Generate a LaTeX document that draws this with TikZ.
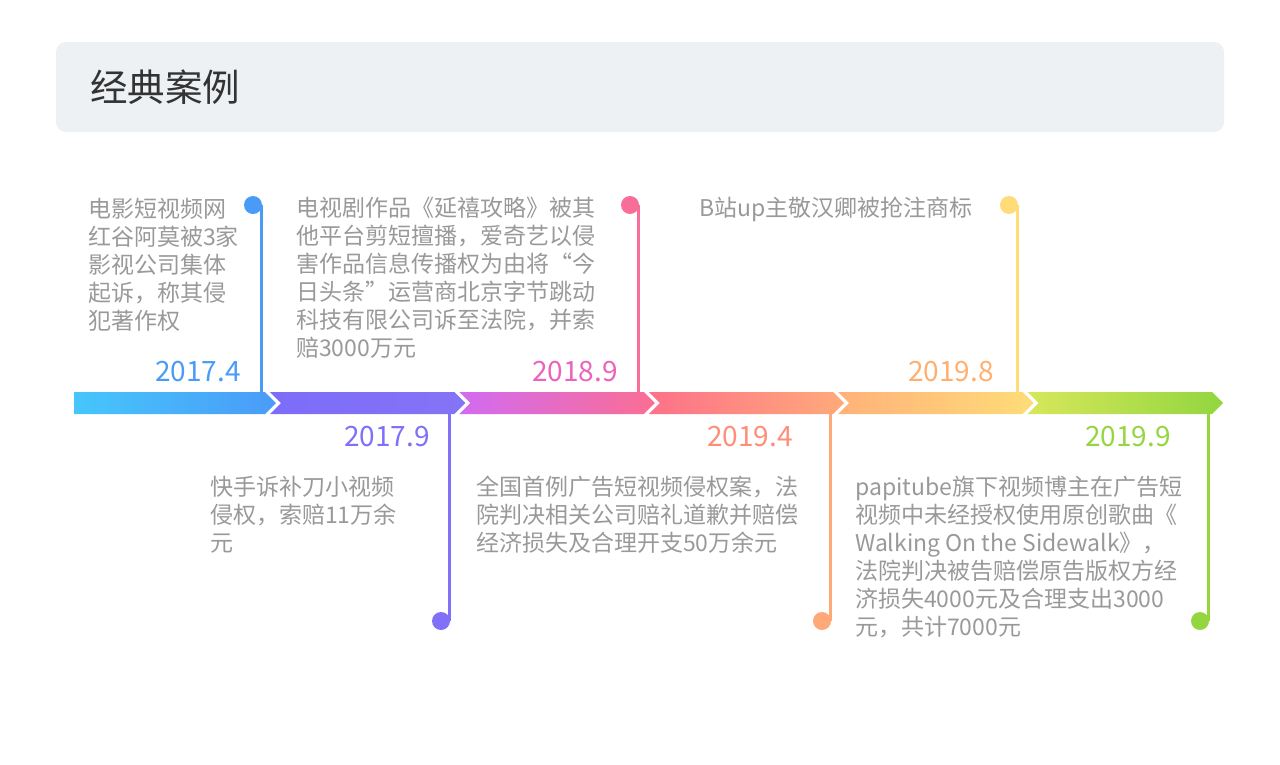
\documentclass[tikz,border=0pt]{standalone}
\usepackage{fontspec}
\setmainfont{Noto Sans CJK SC}
\usetikzlibrary{positioning,calc}
\definecolor{headbg}{HTML}{EDF1F4}
\definecolor{headtxt}{HTML}{333333}
\definecolor{casetxt}{HTML}{999999}
\definecolor{segBlueA}{HTML}{46C6FB}\definecolor{segBlueB}{HTML}{4A9BF8}
\definecolor{segPurpA}{HTML}{7C6CF8}\definecolor{segPurpB}{HTML}{8674F6}
\definecolor{segPinkA}{HTML}{D26BF2}\definecolor{segPinkB}{HTML}{FB6E93}
\definecolor{segRedA}{HTML}{FD7189}\definecolor{segRedB}{HTML}{FFAA7A}
\definecolor{segYelA}{HTML}{FFB27A}\definecolor{segYelB}{HTML}{FFDC78}
\definecolor{segGrnA}{HTML}{D7E75B}\definecolor{segGrnB}{HTML}{92D63F}
\definecolor{pinBlue}{HTML}{4A9BF8}
\definecolor{pinPurp}{HTML}{8170F8}
\definecolor{pinPink}{HTML}{F96E98}
\definecolor{pinOrng}{HTML}{FFA878}
\definecolor{pinYel}{HTML}{FFDC78}
\definecolor{pinGrn}{HTML}{94D640}
\definecolor{dateBlue}{HTML}{4A9BF8}
\definecolor{datePurp}{HTML}{7F70F8}
\definecolor{datePink}{HTML}{EC63BC}
\definecolor{dateSalm}{HTML}{FF8E78}
\definecolor{dateOrng}{HTML}{FFB070}
\definecolor{dateGrn}{HTML}{94D640}

\begin{document}
\begin{tikzpicture}[x=1pt,y=-1pt,
  casebox/.style={anchor=north west,inner sep=0pt,align=left,text=casetxt,
    font=\fontsize{23}{28}\selectfont},
  datebox/.style={anchor=east,inner sep=0pt,font=\fontsize{28}{30}\selectfont},
  pinline/.style={line width=3pt}]
\useasboundingbox (0,0) rectangle (1280,764);
% header
\fill[headbg,rounded corners=10pt] (56,42) rectangle (1224,132);
\node[anchor=west,inner sep=0pt,text=headtxt,font=\fontsize{37.5}{40}\selectfont] (title) at (90,87) {经典案例};
% timeline
\shade[left color=segBlueA,right color=segBlueB] (74,392) -- (265,392) -- (276,403) -- (265,414) -- (74,414) -- cycle;
\foreach \i/\ca/\cb in {1/segPurpA/segPurpB, 2/segPinkA/segPinkB, 3/segRedA/segRedB, 4/segYelA/segYelB, 5/segGrnA/segGrnB} {
  \pgfmathsetmacro\r{265+189.4*\i}
  \pgfmathsetmacro\l{\r-184.4}
  \shade[left color=\ca,right color=\cb] (\l,392) -- (\r,392) -- (\r+11,403) -- (\r,414) -- (\l,414) -- (\l+11,403) -- cycle;
}
% pins
\foreach \n/\x/\c in {a/261/pinBlue, c/638/pinPink, e/1017/pinYel} {
  \coordinate (pin\n) at (\x,205);
  \coordinate (bar\n) at (\x,392);
  \fill[\c] ($(pin\n)+(-8,0)$) circle (9pt);
  \draw[\c,pinline] (pin\n) -- (bar\n);
}
\foreach \n/\x/\c in {b/449/pinPurp, d/830/pinOrng, f/1208/pinGrn} {
  \coordinate (pin\n) at (\x,621);
  \coordinate (bar\n) at (\x,414);
  \fill[\c] ($(pin\n)+(-8,0)$) circle (9pt);
  \draw[\c,pinline] (bar\n) -- (pin\n);
}
% dates
\node[datebox,text=dateBlue] (da) at (241,372) {2017.4};
\node[datebox,text=datePink] (dc) at (618,372) {2018.9};
\node[datebox,text=dateOrng] (de) at (994,372) {2019.8};
\node[datebox,text=datePurp] (db) at (430,437) {2017.9};
\node[datebox,text=dateSalm] (dd) at (793,437) {2019.4};
\node[datebox,text=dateGrn] (df) at (1171,437) {2019.9};
% cases
\node[casebox] (ca) at (88,197.5) {电影短视频网\\红谷阿莫被3家\\影视公司集体\\起诉，称其侵\\犯著作权};
\node[casebox] (cc) at (296,196.5) {电视剧作品《延禧攻略》被其\\他平台剪短擅播，爱奇艺以侵\\害作品信息传播权为由将“今\\日头条”运营商北京字节跳动\\科技有限公司诉至法院，并索\\赔3000万元};
\node[casebox] (ce) at (699,196.5) {B站up主敬汉卿被抢注商标};
\node[casebox] (cb) at (210,475.5) {快手诉补刀小视频\\侵权，索赔11万余\\元};
\node[casebox] (cd) at (476,475.5) {全国首例广告短视频侵权案，法\\院判决相关公司赔礼道歉并赔偿\\经济损失及合理开支50万余元};
\node[casebox] (cf) at (855,475.5) {papitube旗下视频博主在广告短\\视频中未经授权使用原创歌曲《\\Walking On the Sidewalk》，\\法院判决被告赔偿原告版权方经\\济损失4000元及合理支出3000\\元，共计7000元};
\end{tikzpicture}
\end{document}
